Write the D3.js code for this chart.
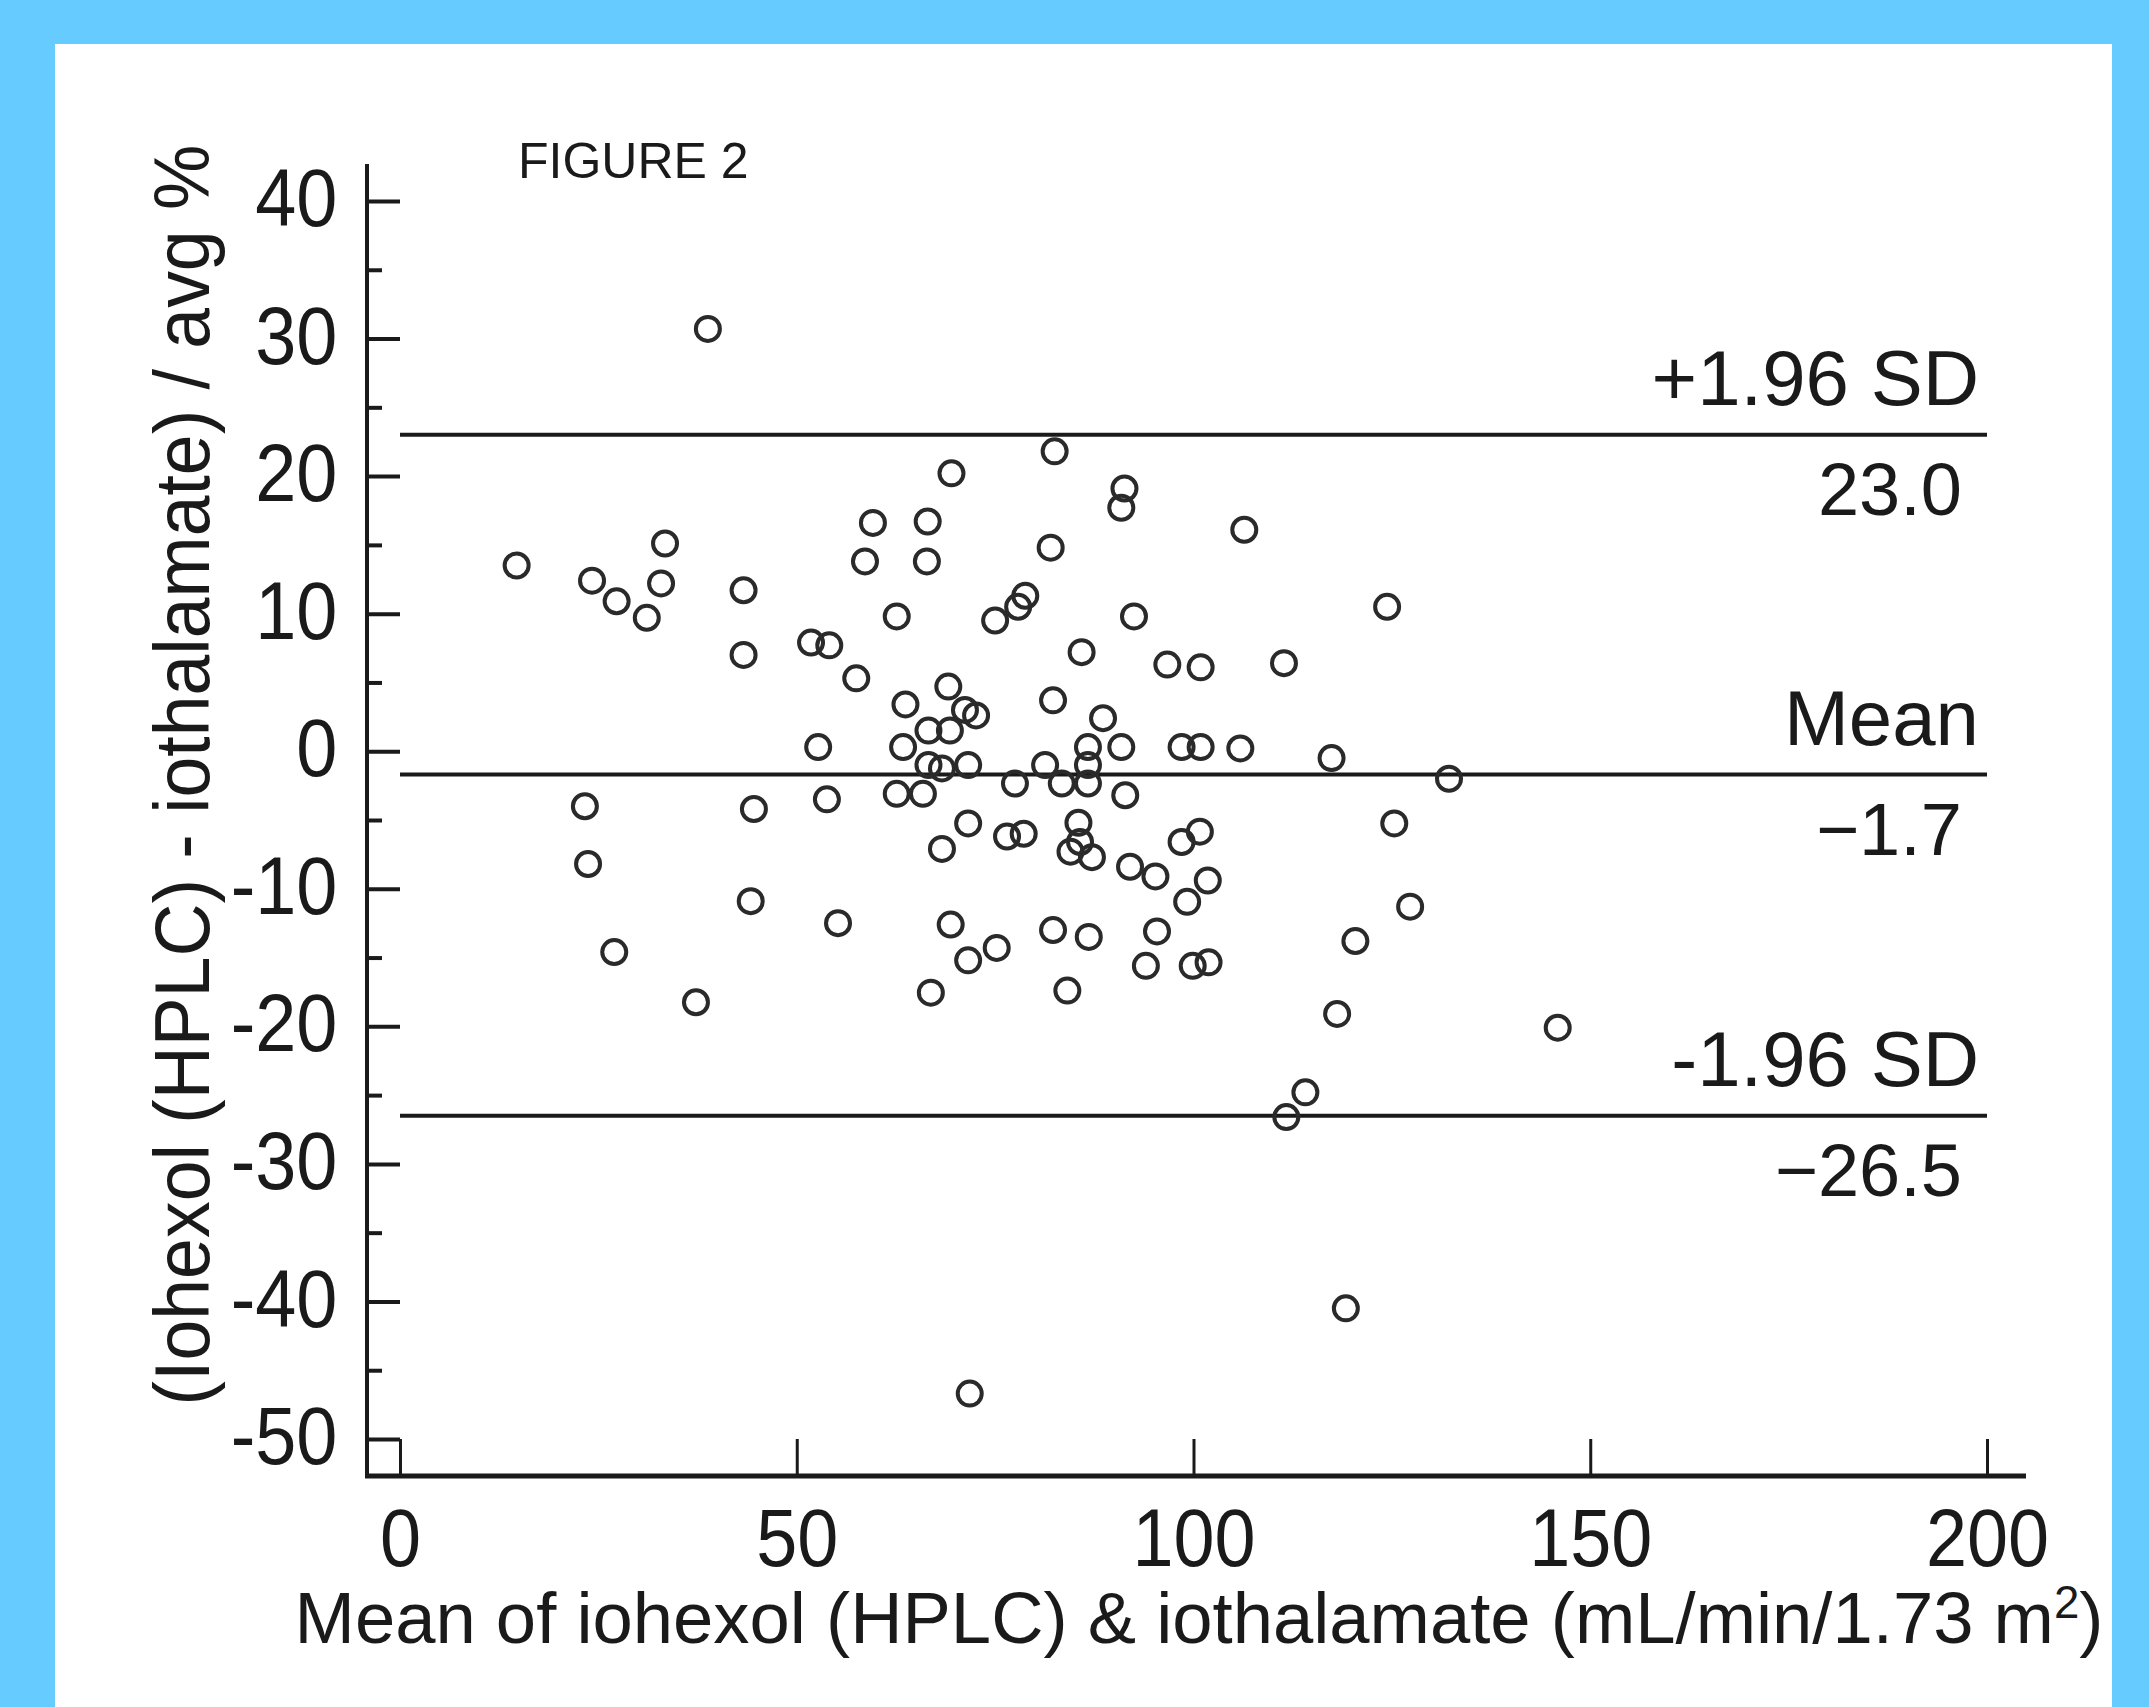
<!DOCTYPE html>
<html lang="en">
<head>
    <meta charset="UTF-8">
    <script src="https://d3js.org/d3.v7.min.js"></script>
    <title>Figure 2</title>
    <style>
        body { margin: 0; background: #66ccff; }
        text { font-family: "Liberation Sans", Arial, sans-serif; fill: #1a1a1a; }
    </style>
</head>
<body>
<script>
    // mean of the two methods (x) and the percent difference (y)
    const meanGFR = [
        38.8, 14.7, 33.4, 24.2, 27.3, 32.9, 31.1, 43.3, 43.3, 51.8,
        54.1, 57.5, 59.6, 58.6, 66.5, 66.4, 69.5, 62.6, 75.0, 78.8,
        77.9, 82.5, 82.0, 82.3, 69.1, 63.7, 71.2, 72.6, 66.6, 69.3,
        63.4, 52.7, 66.6, 68.3, 71.6, 62.6, 65.9, 53.8, 23.3, 44.6,
        23.7, 71.6, 68.3, 76.5, 78.6, 77.5, 81.3, 83.4, 86.7, 86.7,
        91.4, 86.7, 90.9, 98.5, 100.9, 105.9, 117.4, 132.2, 88.6, 85.9,
        96.7, 100.9, 111.4, 92.5, 124.4, 91.3, 90.9, 106.4, 125.3, 85.5,
        85.7, 84.5, 87.2, 98.5, 100.8, 92.0, 95.2, 101.8, 99.2, 127.3,
        82.3, 86.8, 95.4, 120.4, 94.0, 99.9, 101.9, 84.1, 118.1, 145.9,
        114.1, 111.7, 119.2, 44.2, 55.2, 27.0, 37.3, 69.4, 75.2, 71.6,
        66.9, 71.8
    ];
    const pctDiff = [
        30.7, 13.5, 15.1, 12.4, 10.9, 12.2, 9.7, 11.7, 7.0, 7.9,
        7.7, 5.3, 16.6, 13.8, 16.7, 13.8, 20.2, 9.8, 9.5, 11.3,
        10.5, 21.8, 14.8, 3.7, 4.7, 3.4, 3.0, 2.6, 1.5, 1.5,
        0.3, 0.3, -1.0, -1.25, -1.0, -3.1, -3.1, -3.5, -4.0, -4.2,
        -8.2, -5.25, -7.1, -6.2, -6.0, -2.35, -1.0, -2.35, -1.0, -2.35,
        -3.2, 0.3, 0.3, 0.3, 0.3, 0.2, -0.5, -2.0, 2.4, 7.2,
        6.3, 6.1, 6.4, 9.8, 10.5, 19.1, 17.7, 16.1, -5.25, -5.2,
        -6.6, -7.3, -7.7, -6.6, -5.85, -8.4, -9.1, -9.4, -10.95, -11.3,
        -13.0, -13.5, -13.1, -13.8, -15.6, -15.6, -15.35, -17.4, -19.1, -20.1,
        -24.8, -26.6, -40.5, -10.9, -12.5, -14.6, -18.25, -12.6, -14.3, -15.2,
        -17.55, -46.7
    ];

    const xTicks = [0, 50, 100, 150, 200];
    const yTicks = [40, 30, 20, 10, 0, -10, -20, -30, -40, -50];
    const yMinorTicks = [35, 25, 15, 5, -5, -15, -25, -35, -45];

    const limitValues = [23.0, -1.7, -26.5];
    const limitNames = ['+1.96 SD', 'Mean', '-1.96 SD'];
    const limitLabels = ['23.0', '\u22121.7', '\u221226.5'];

    const width = 2149;
    const height = 1707;

    const svg = d3.select('body')
        .append('svg')
        .attr('width', width)
        .attr('height', height);

    // white page on the blue background
    svg.append('rect')
        .attr('x', 55)
        .attr('y', 44)
        .attr('width', 2057)
        .attr('height', height - 44)
        .attr('fill', '#fff');

    const x = d3.scaleLinear().domain([0, 200]).range([400, 1987]);
    const y = d3.scaleLinear().domain([-50, 40]).range([1439, 201]);

    const yAxisX = x(0) - 33;
    const xAxisY = y(-50) + 37;

    // frame lines (axes are offset from the data range)
    svg.append('line')
        .attr('x1', yAxisX).attr('x2', yAxisX)
        .attr('y1', y(40) - 37).attr('y2', xAxisY + 2)
        .attr('stroke', '#1a1a1a').attr('stroke-width', 4);
    svg.append('line')
        .attr('x1', yAxisX - 2).attr('x2', x(200) + 39)
        .attr('y1', xAxisY).attr('y2', xAxisY)
        .attr('stroke', '#1a1a1a').attr('stroke-width', 5);

    // x axis, ticks pointing up
    const gx = svg.append('g')
        .attr('transform', `translate(0, ${xAxisY})`)
        .call(d3.axisBottom(x)
            .tickValues(xTicks)
            .tickSizeInner(-37)
            .tickSizeOuter(0)
            .tickPadding(32)
            .tickFormat(d => String(d)));
    gx.select('.domain').remove();
    gx.selectAll('line').attr('stroke', '#1a1a1a').attr('stroke-width', 3);
    gx.selectAll('text')
        .attr('font-size', 82)
        .attr('fill', '#1a1a1a')
        .attr('transform', 'scale(0.9,1)');

    // y axis, ticks pointing right
    const gy = svg.append('g')
        .attr('transform', `translate(${yAxisX}, 0)`)
        .call(d3.axisLeft(y)
            .tickValues(yTicks)
            .tickSizeInner(-33)
            .tickSizeOuter(0)
            .tickPadding(33)
            .tickFormat(d => String(d)));
    gy.select('.domain').remove();
    gy.selectAll('line').attr('stroke', '#1a1a1a').attr('stroke-width', 4);
    gy.selectAll('text')
        .attr('font-size', 82)
        .attr('dy', '0.3em')
        .attr('fill', '#1a1a1a')
        .attr('transform', 'scale(0.9,1)');

    const gyMinor = svg.append('g')
        .attr('transform', `translate(${yAxisX}, 0)`)
        .call(d3.axisLeft(y)
            .tickValues(yMinorTicks)
            .tickSizeInner(-15)
            .tickSizeOuter(0)
            .tickFormat(() => ''));
    gyMinor.select('.domain').remove();
    gyMinor.selectAll('line').attr('stroke', '#1a1a1a').attr('stroke-width', 4);

    // mean and limits of agreement
    const limits = svg.append('g');
    limits.selectAll('line')
        .data(limitValues)
        .enter()
        .append('line')
        .attr('x1', x(0))
        .attr('x2', x(200))
        .attr('y1', d => y(d))
        .attr('y2', d => y(d))
        .attr('stroke', '#1a1a1a')
        .attr('stroke-width', 4);

    limits.selectAll('text.name')
        .data(limitValues)
        .enter()
        .append('text')
        .attr('class', 'name')
        .attr('x', 1979)
        .attr('y', d => y(d) - 30)
        .attr('text-anchor', 'end')
        .attr('font-size', 78)
        .text((d, i) => limitNames[i]);

    limits.selectAll('text.value')
        .data(limitValues)
        .enter()
        .append('text')
        .attr('class', 'value')
        .attr('x', 1962)
        .attr('y', d => y(d) + 80)
        .attr('text-anchor', 'end')
        .attr('font-size', 74)
        .text((d, i) => limitLabels[i]);

    // points
    svg.append('g').selectAll('circle')
        .data(meanGFR.map((m, i) => [m, pctDiff[i]]))
        .enter()
        .append('circle')
        .attr('cx', d => x(d[0]))
        .attr('cy', d => y(d[1]))
        .attr('r', 12)
        .attr('fill', 'none')
        .attr('stroke', '#2a2a2a')
        .attr('stroke-width', 4);

    svg.append('text')
        .attr('x', 518)
        .attr('y', 178)
        .attr('font-size', 50)
        .attr('fill', '#000')
        .text('FIGURE 2');

    // squeeze a title horizontally so it spans the same length as in the figure
    function fitText(sel, target, cx, cy, rotate) {
        const len = sel.node().getComputedTextLength();
        const s = target / len;
        sel.attr('transform', `translate(${cx}, ${cy}) rotate(${rotate}) scale(${s}, 1)`);
    }

    const yTitle = svg.append('text')
        .attr('text-anchor', 'middle')
        .attr('font-size', 78)
        .text('(Iohexol (HPLC) - iothalamate) / avg %');
    fitText(yTitle, 1261, 209, 775, -90);

    const xTitle = svg.append('text')
        .attr('text-anchor', 'middle')
        .attr('font-size', 73);
    xTitle.append('tspan').text('Mean of iohexol (HPLC) & iothalamate (mL/min/1.73 m');
    xTitle.append('tspan').attr('baseline-shift', 'super').attr('font-size', 46).text('2');
    xTitle.append('tspan').text(')');
    fitText(xTitle, 1809, 1199, 1643, 0);
</script>
</body>
</html>
